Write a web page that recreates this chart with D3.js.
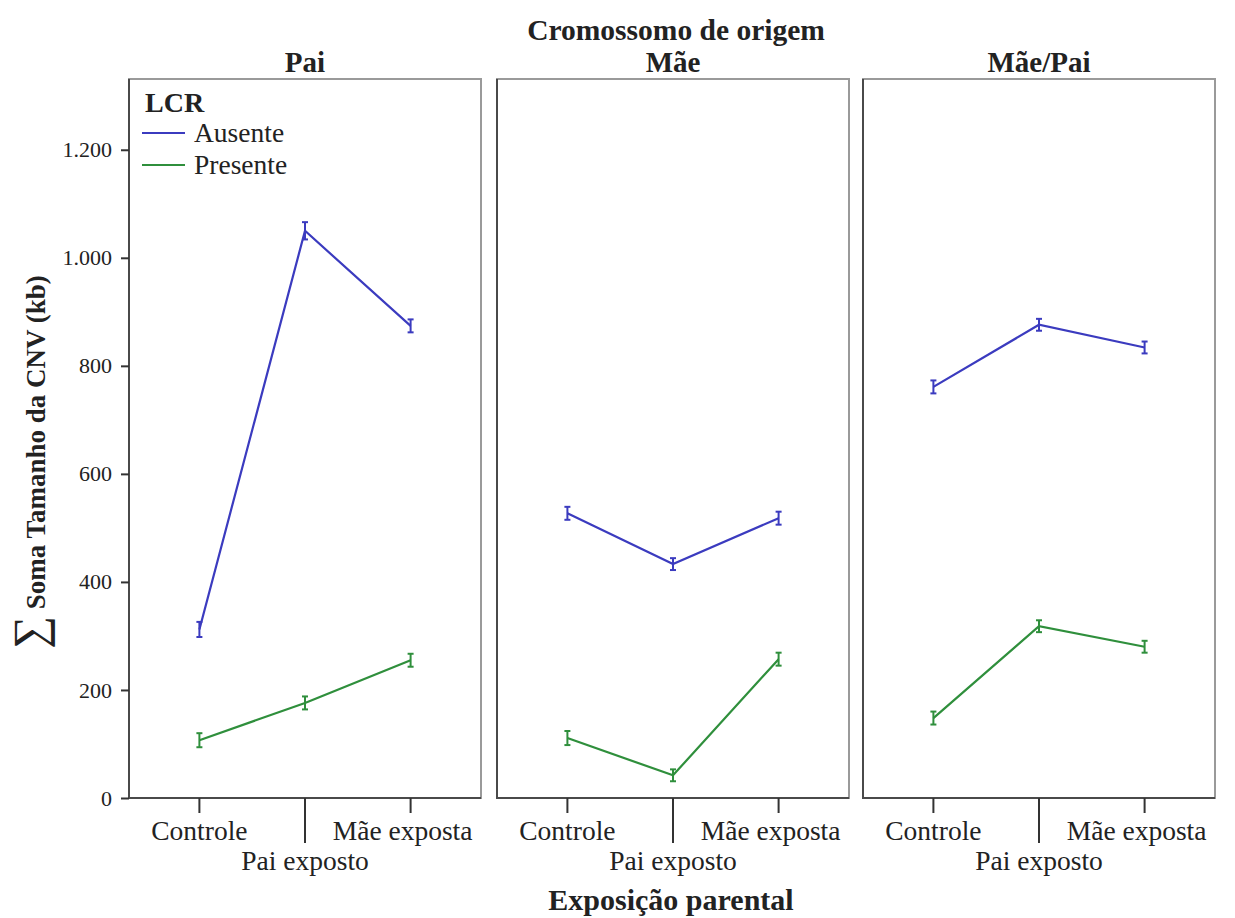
<!DOCTYPE html>
<html>
<head>
<meta charset="utf-8">
<script src="https://cdn.jsdelivr.net/npm/d3@7"></script>
<style>
  body { margin: 0; background: #fff; }
  svg text { font-family: "Liberation Serif", "DejaVu Serif", serif; fill: #222; }
</style>
</head>
<body>
<div id="root"></div>
<script>
"use strict";

/* ************************************* Data ******************************** */

const panels = ["Pai", "Mãe", "Mãe/Pai"];
const categories = ["Controle", "Pai exposto", "Mãe exposta"];
const seriesNames = ["Ausente", "Presente"];

// one row per panel, one value per category
const ausente = [[312, 1050, 874], [527, 433, 518], [761, 876, 834]];
const ausenteErr = [[14, 16, 12], [12, 11, 12], [12, 11, 11]];
const presente = [[107, 176, 255], [111, 42, 257], [148, 318, 280]];
const presenteErr = [[13, 12, 12], [13, 11, 12], [12, 11, 11]];

const yTicks = [0, 200, 400, 600, 800, 1000, 1200];

/* ************************************* Set up ******************************** */

const width = 1235;
const height = 918;
const serif = '"Liberation Serif", "DejaVu Serif", serif';
const colors = { Ausente: "#3b3bbf", Presente: "#2f8f3c" };

const panelLeft = [129, 497, 863];
const panelWidth = 352;
const plotTop = 79;
const plotBottom = 798;

const svg = d3.select('#root')
    .append('svg')
    .attr('width', width)
    .attr('height', height)
    .attr('font-family', serif);

const yScale = d3.scaleLinear()
    .domain([0, 1331])
    .range([plotBottom, plotTop]);

const fmt = d3.formatLocale({ decimal: ",", thousands: ".", grouping: [3], currency: ["", ""] }).format(",d");

const series = seriesNames.map((name, s) => ({
    name: name,
    values: s === 0 ? ausente : presente,
    errs: s === 0 ? ausenteErr : presenteErr
}));

/* ************************************* Panels ******************************** */

panels.forEach((p, i) => {
    const x0 = panelLeft[i];
    const xScale = d3.scalePoint()
        .domain(categories)
        .range([x0, x0 + panelWidth])
        .padding(2 / 3);

    const g = svg.append('g');

    // frame
    g.append('rect')
        .attr('x', x0).attr('y', plotTop)
        .attr('width', panelWidth).attr('height', plotBottom - plotTop)
        .attr('fill', 'none')
        .attr('stroke', '#9a9a9a')
        .attr('stroke-width', 2);
    g.append('path')
        .attr('d', `M${x0},${plotTop}V${plotBottom}H${x0 + panelWidth}`)
        .attr('fill', 'none')
        .attr('stroke', '#4a4a4a')
        .attr('stroke-width', 2);

    // panel title
    svg.append('text')
        .attr('x', x0 + panelWidth / 2)
        .attr('y', 72)
        .attr('text-anchor', 'middle')
        .style('font-weight', 'bold')
        .style('font-size', '29px')
        .text(p);

    // x ticks and labels (middle label is staggered down)
    categories.forEach((c, k) => {
        const x = xScale(c);
        g.append('line')
            .attr('x1', x).attr('x2', x)
            .attr('y1', plotBottom).attr('y2', plotBottom + (k === 1 ? 45 : 15))
            .attr('stroke', '#333')
            .attr('stroke-width', 2);
        g.append('text')
            .attr('x', k === 2 ? x - 8 : x)
            .attr('y', k === 1 ? 870 : 840)
            .attr('text-anchor', 'middle')
            .style('font-size', '27.5px')
            .text(c);
    });

    // lines and error bars
    const line = d3.line()
        .x((d, k) => xScale(categories[k]))
        .y((d) => yScale(d));

    series.forEach((s) => {
        const vals = s.values[i];
        const errs = s.errs[i];
        const col = colors[s.name];

        g.append('path')
            .datum(vals)
            .attr('d', line)
            .attr('fill', 'none')
            .attr('stroke', col)
            .attr('stroke-width', 2.2);

        const eb = g.selectAll(null)
            .data(vals.map((v, k) => ({ c: categories[k], v: v, e: errs[k] })))
            .enter().append('g')
            .attr('stroke', col)
            .attr('stroke-width', 2);
        eb.append('line')
            .attr('x1', (d) => xScale(d.c)).attr('x2', (d) => xScale(d.c))
            .attr('y1', (d) => yScale(d.v - d.e)).attr('y2', (d) => yScale(d.v + d.e));
        eb.append('line')
            .attr('x1', (d) => xScale(d.c) - 3).attr('x2', (d) => xScale(d.c) + 3)
            .attr('y1', (d) => yScale(d.v - d.e)).attr('y2', (d) => yScale(d.v - d.e));
        eb.append('line')
            .attr('x1', (d) => xScale(d.c) - 3).attr('x2', (d) => xScale(d.c) + 3)
            .attr('y1', (d) => yScale(d.v + d.e)).attr('y2', (d) => yScale(d.v + d.e));
    });
});

/* ************************************* Y axis ******************************** */

const yAxis = d3.axisLeft(yScale)
    .tickValues(yTicks)
    .tickFormat(fmt)
    .tickSize(8)
    .tickPadding(9);

const yG = svg.append('g')
    .attr('transform', `translate(${panelLeft[0]},0)`)
    .call(yAxis);
yG.attr('font-family', serif);
yG.select('.domain').remove();
yG.selectAll('.tick line').attr('stroke', '#333').attr('stroke-width', 2);
yG.selectAll('.tick text')
    .attr('fill', '#222')
    .style('font-size', '22px');

/* ************************************* Titles ******************************** */

svg.append('text')
    .attr('x', 676)
    .attr('y', 40)
    .attr('text-anchor', 'middle')
    .style('font-weight', 'bold')
    .style('font-size', '29.5px')
    .text('Cromossomo de origem');

svg.append('text')
    .attr('x', 671)
    .attr('y', 910)
    .attr('text-anchor', 'middle')
    .style('font-weight', 'bold')
    .style('font-size', '30px')
    .text('Exposição parental');

const yLab = svg.append('text')
    .attr('transform', 'translate(45,462) rotate(-90)')
    .attr('text-anchor', 'middle');
yLab.append('tspan')
    .style('font-size', '46px')
    .text('∑');
yLab.append('tspan')
    .style('font-size', '27px')
    .style('font-weight', 'bold')
    .text(' Soma Tamanho da CNV (kb)');

/* ************************************* Legend ******************************** */

const legend = svg.append('g');
legend.append('text')
    .attr('x', 145).attr('y', 112)
    .style('font-weight', 'bold')
    .style('font-size', '28px')
    .text('LCR');

const legendItems = legend.selectAll('g.item')
    .data(seriesNames)
    .enter().append('g')
    .attr('class', 'item')
    .attr('transform', (d, k) => `translate(0,${133 + k * 32})`);
legendItems.append('line')
    .attr('x1', 142).attr('x2', 185)
    .attr('stroke', (d) => colors[d])
    .attr('stroke-width', 2.2);
legendItems.append('text')
    .attr('x', 194).attr('y', 9)
    .style('font-size', '27.5px')
    .text((d) => d);
</script>
</body>
</html>
